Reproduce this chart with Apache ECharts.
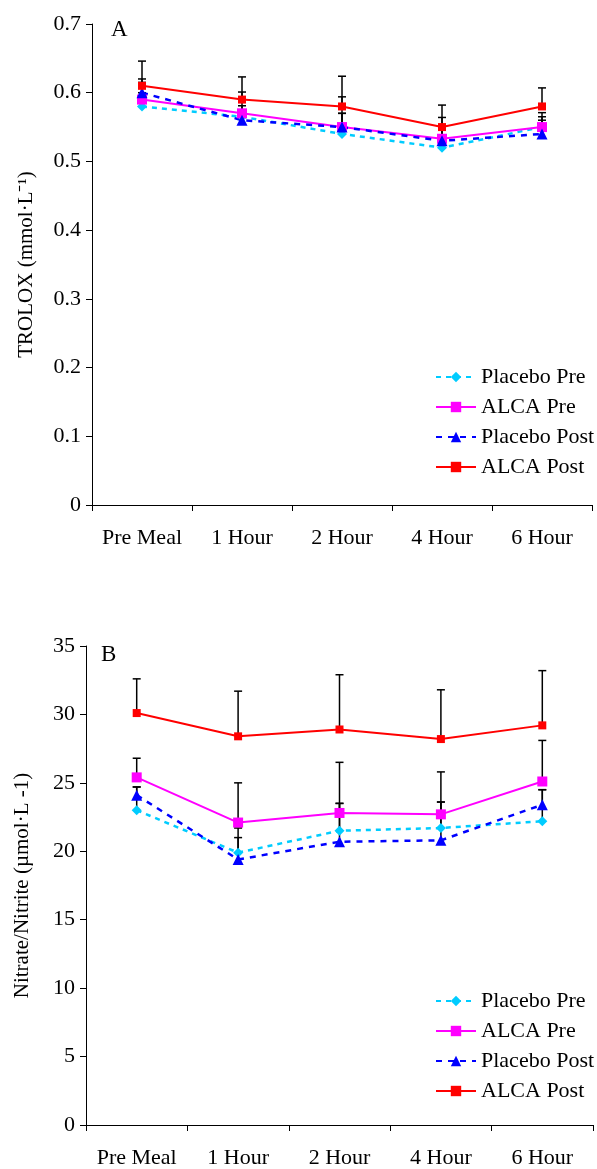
<!DOCTYPE html>
<html>
<head>
<meta charset="utf-8">
<script src="https://cdn.jsdelivr.net/npm/echarts@6/dist/echarts.min.js"></script>
<style>
  html, body { margin: 0; padding: 0; background: #fff; }
  #root { width: 597px; height: 1169px; }
</style>
</head>
<body>
<div id="root"></div>
<script>
// time points
const categories = ["Pre Meal", "1 Hour", "2 Hour", "4 Hour", "6 Hour"];

// panel A - TROLOX (mmol/L), means and SD (error bars drawn upward)
const troloxPlaceboPre = [0.58, 0.565, 0.54, 0.52, 0.55];
const troloxAlcaPre = [0.59, 0.57, 0.55, 0.533, 0.55];
const troloxPlaceboPost = [0.60, 0.56, 0.55, 0.53, 0.54];
const troloxAlcaPost = [0.61, 0.59, 0.58, 0.55, 0.58];
const troloxPlaceboPreSd = [0.02, 0.01, 0.03, 0.03, 0.01];
const troloxAlcaPreSd = [0.03, 0.031, 0.044, 0.031, 0.021];
const troloxPlaceboPostSd = [0.015, 0.021, 0.02, 0.02, 0.025];
const troloxAlcaPostSd = [0.036, 0.033, 0.044, 0.032, 0.027];

// panel B - Nitrate/Nitrite (umol/L)
const nitPlaceboPre = [23.0, 19.9, 21.5, 21.7, 22.2];
const nitAlcaPre = [25.4, 22.1, 22.8, 22.7, 25.1];
const nitPlaceboPost = [24.1, 19.4, 20.7, 20.8, 23.4];
const nitAlcaPost = [30.1, 28.4, 28.9, 28.2, 29.2];
const nitPlaceboPreSd = [1.7, 1.1, 2.0, 1.9, 2.3];
const nitAlcaPreSd = [1.4, 2.9, 3.7, 3.1, 3.0];
const nitPlaceboPostSd = [0.6, 2.3, 2.8, 2.8, 1.1];
const nitAlcaPostSd = [2.5, 3.3, 4.0, 3.6, 4.0];

const FONT = "'Liberation Serif', 'Times New Roman', serif";
const names = ["Placebo Pre", "ALCA Pre", "Placebo Post", "ALCA Post"];

const styles = {
  "Placebo Pre": { color: "#00CCFF", symbol: "diamond", symbolSize: 10, type: [5, 5], width: 2.5 },
  "ALCA Pre": { color: "#FF00FF", symbol: "rect", symbolSize: 10, type: "solid", width: 2 },
  "Placebo Post": { color: "#0000FF", symbol: "triangle", symbolSize: 11, type: [6, 6], width: 2.5 },
  "ALCA Post": { color: "#FF0000", symbol: "rect", symbolSize: 8, type: "solid", width: 2 }
};

function lineSeries(name, data, idx) {
  const s = styles[name];
  return {
    name: name,
    type: "line",
    xAxisIndex: idx,
    yAxisIndex: idx,
    data: data,
    symbol: s.symbol,
    symbolSize: s.symbolSize,
    showAllSymbol: true,
    z: 3,
    itemStyle: { color: s.color },
    lineStyle: { color: s.color, width: s.width, type: s.type },
    emphasis: { disabled: true },
    animation: false
  };
}

// upward-only error bars, black with a small cap
function errorSeries(mean, sd, idx) {
  return {
    type: "custom",
    xAxisIndex: idx,
    yAxisIndex: idx,
    z: 2,
    animation: false,
    silent: true,
    data: mean.map((m, i) => [i, m, m + sd[i]]),
    renderItem: function (params, api) {
      const base = api.coord([api.value(0), api.value(1)]);
      const top = api.coord([api.value(0), api.value(2)]);
      const st = { stroke: "#000", lineWidth: 1.5 };
      return {
        type: "group",
        children: [
          { type: "line", shape: { x1: base[0], y1: base[1], x2: top[0], y2: top[1] }, style: st },
          { type: "line", shape: { x1: top[0] - 4, y1: top[1], x2: top[0] + 4, y2: top[1] }, style: st }
        ]
      };
    }
  };
}

function xAxis(idx) {
  return {
    type: "category",
    gridIndex: idx,
    data: categories,
    boundaryGap: true,
    axisLine: { lineStyle: { color: "#000", width: 1 } },
    axisTick: { show: true, length: 6, alignWithLabel: false, lineStyle: { color: "#000" } },
    axisLabel: { color: "#000", fontFamily: FONT, fontSize: 22, margin: 22, interval: 0 },
    splitLine: { show: false }
  };
}

function yAxis(idx, max, interval, name, gap) {
  return {
    type: "value",
    gridIndex: idx,
    min: 0,
    max: max,
    interval: interval,
    name: name,
    nameLocation: "middle",
    nameGap: gap,
    nameTextStyle: { color: "#000", fontFamily: FONT, fontSize: 21 },
    axisLine: { show: true, lineStyle: { color: "#000", width: 1 } },
    axisTick: { show: true, length: 6, lineStyle: { color: "#000" } },
    axisLabel: { color: "#000", fontFamily: FONT, fontSize: 22, margin: 11 },
    splitLine: { show: false }
  };
}

function legend(idx, left, top) {
  return {
    data: names,
    orient: "vertical",
    left: left,
    top: top,
    itemWidth: 40,
    itemHeight: 13,
    itemGap: 8,
    selectedMode: false,
    textStyle: { color: "#000", fontFamily: FONT, fontSize: 22 }
  };
}

const chart = echarts.init(document.getElementById("root"), null, { renderer: "canvas" });

chart.setOption({
  backgroundColor: "#fff",
  animation: false,
  title: [
    { text: "A", left: 106, top: 13, textStyle: { color: "#000", fontFamily: FONT, fontSize: 23, fontWeight: "normal" } },
    { text: "B", left: 96, top: 638, textStyle: { color: "#000", fontFamily: FONT, fontSize: 23, fontWeight: "normal" } }
  ],
  legend: [legend(0, 430, 361), legend(1, 430, 985)],
  grid: [
    { left: 92, right: 5, top: 24, height: 481 },
    { left: 86, right: 4, top: 646, height: 480 }
  ],
  xAxis: [xAxis(0), xAxis(1)],
  yAxis: [
    yAxis(0, 0.7, 0.1, "TROLOX (mmol·L⁻¹)", 55),
    yAxis(1, 35, 5, "Nitrate/Nitrite (µmol·L -1)", 53)
  ],
  series: [
    errorSeries(troloxPlaceboPre, troloxPlaceboPreSd, 0),
    errorSeries(troloxAlcaPre, troloxAlcaPreSd, 0),
    errorSeries(troloxPlaceboPost, troloxPlaceboPostSd, 0),
    errorSeries(troloxAlcaPost, troloxAlcaPostSd, 0),
    lineSeries("Placebo Pre", troloxPlaceboPre, 0),
    lineSeries("ALCA Pre", troloxAlcaPre, 0),
    lineSeries("Placebo Post", troloxPlaceboPost, 0),
    lineSeries("ALCA Post", troloxAlcaPost, 0),
    errorSeries(nitPlaceboPre, nitPlaceboPreSd, 1),
    errorSeries(nitAlcaPre, nitAlcaPreSd, 1),
    errorSeries(nitPlaceboPost, nitPlaceboPostSd, 1),
    errorSeries(nitAlcaPost, nitAlcaPostSd, 1),
    lineSeries("Placebo Pre", nitPlaceboPre, 1),
    lineSeries("ALCA Pre", nitAlcaPre, 1),
    lineSeries("Placebo Post", nitPlaceboPost, 1),
    lineSeries("ALCA Post", nitAlcaPost, 1)
  ]
});
</script>
</body>
</html>
